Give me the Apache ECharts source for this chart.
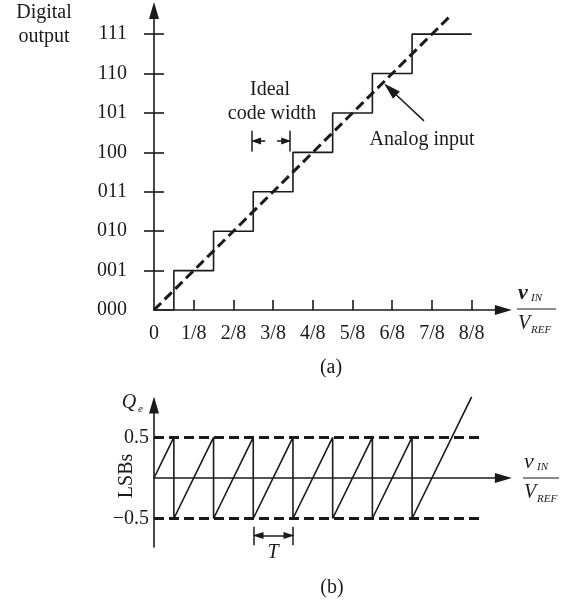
<!DOCTYPE html>
<html>
<head>
<meta charset="utf-8"/>
<title>ADC transfer</title>
<style>
*{margin:0;padding:0;}
html,body{width:567px;height:605px;background:#fff;}
#main{width:567px;height:605px;}
</style>
<script src="https://cdn.jsdelivr.net/npm/echarts@6/dist/echarts.min.js"></script>
</head>
<body>
<div id="main"></div>
<script>
// tick labels
var xLabels=['0','1/8','2/8','3/8','4/8','5/8','6/8','7/8','8/8'];
var codeLabels=['000','001','010','011','100','101','110','111'];
// (a) staircase: input where each code starts, and the code
var stepX=[0,0.5,1.5,2.5,3.5,4.5,5.5,6.5,8];
var stepY=[0,1,2,3,4,5,6,7,7];
// (a) ideal analog line
var analogX=[0,7.5];
var analogY=[0,7.5];
// (b) quantization error
var sawX=[0,0.5,0.5,1.5,1.5,2.5,2.5,3.5,3.5,4.5,4.5,5.5,5.5,6.5,6.5,8];
var sawY=[0,0.5,-0.5,0.5,-0.5,0.5,-0.5,0.5,-0.5,0.5,-0.5,0.5,-0.5,0.5,-0.5,1];
// (b) +-0.5 LSB bounds
var bandX=[0,8.2];
var bandY=[0.5,-0.5];

var SERIF='Liberation Serif';
var INK='#1a1a1a';

function pairs(xs,ys){
	var out=[];
	for(var i=0;i<xs.length;i++){out.push([xs[i],ys[i]]);}
	return out;
}
function seg(a,b,s1,s2,size){
	size=size||[7,11];
	return [{coord:a,symbol:s1||'none',symbolSize:size},{coord:b,symbol:s2||'none',symbolSize:size}];
}

var chart=echarts.init(document.getElementById('main'));
var lineAxis={show:true,onZero:true,symbol:['none','triangle'],symbolSize:[10,17],lineStyle:{color:INK,width:1.6}};

var option={
	animation:false,
	backgroundColor:'#fff',
	grid:[
		{left:154,top:10.5,width:349.4,height:299.5},
		{left:154,top:405,width:349.4,height:141.9}
	],
	xAxis:[
		{gridIndex:0,type:'value',min:0,max:8.8,interval:1,
			axisLine:lineAxis,
			axisTick:{show:true,inside:true,length:10,customValues:[1,2,3,4,5,6,7,8],lineStyle:{color:INK,width:1.6}},
			axisLabel:{show:true,margin:14,customValues:[0,1,2,3,4,5,6,7,8],fontFamily:SERIF,fontSize:20,color:INK,
				formatter:function(v){return xLabels[Math.round(v)];}},
			splitLine:{show:false}},
		{gridIndex:1,type:'value',min:0,max:8.8,interval:1,
			axisLine:lineAxis,axisTick:{show:false},axisLabel:{show:false},splitLine:{show:false}}
	],
	yAxis:[
		{gridIndex:0,type:'value',position:'left',min:0,max:7.6,interval:1,
			axisLine:lineAxis,
			axisTick:{show:true,length:10,customValues:[1,2,3,4,5,6,7],lineStyle:{color:INK,width:1.6}},
			axisLabel:{show:true,margin:27,customValues:[0,1,2,3,4,5,6,7],fontFamily:SERIF,fontSize:20,color:INK,
				formatter:function(v){return codeLabels[Math.round(v)];}},
			splitLine:{show:false}},
		{gridIndex:0,type:'value',position:'left',offset:0,min:0,max:7.6,interval:1,
			axisLine:{show:false},
			axisTick:{show:true,inside:true,length:10,customValues:[1,2,3,4,5,6,7],lineStyle:{color:INK,width:1.6}},
			axisLabel:{show:false},splitLine:{show:false}},
		{gridIndex:1,type:'value',position:'left',min:-0.85,max:0.9,interval:0.5,
			axisLine:lineAxis,axisTick:{show:false},
			axisLabel:{show:true,margin:5,customValues:[0.5,-0.5],fontFamily:SERIF,fontSize:20,color:INK,
				formatter:function(v){return v<0?'\u22120.5':'0.5';}},
			name:'LSBs',nameLocation:'middle',nameRotate:90,nameGap:17,nameMoveOverlap:false,
			nameTextStyle:{fontFamily:SERIF,fontSize:20,color:INK},
			splitLine:{show:false}}
	],
	series:[
		{name:'code',type:'line',xAxisIndex:0,yAxisIndex:0,step:'end',symbol:'none',
			data:pairs(stepX,stepY),lineStyle:{color:INK,width:1.6},z:3},
		{name:'analog',type:'line',xAxisIndex:0,yAxisIndex:0,symbol:'none',clip:false,
			data:pairs(analogX,analogY),lineStyle:{color:INK,width:3,type:[10,5]},z:4,
			markLine:{silent:true,animation:false,label:{show:false},
				lineStyle:{color:INK,width:1.5,type:'solid'},
				data:[
					seg([6.8,4.8],[5.95,5.6],'none','triangle',[10,17]),
					seg([2.47,4.55],[2.47,4.02]),
					seg([2.8,4.29],[2.57,4.29],'none','triangle',[7,10]),
					seg([3.1,4.29],[3.33,4.29],'none','triangle',[7,10]),
					seg([3.43,4.55],[3.43,4.02])
				]}},
		{name:'upper',type:'line',xAxisIndex:1,yAxisIndex:2,symbol:'none',
			data:pairs(bandX,[bandY[0],bandY[0]]),lineStyle:{color:INK,width:3,type:[10,5]}},
		{name:'lower',type:'line',xAxisIndex:1,yAxisIndex:2,symbol:'none',
			data:pairs(bandX,[bandY[1],bandY[1]]),lineStyle:{color:INK,width:3,type:[10,5]}},
		{name:'error',type:'line',xAxisIndex:1,yAxisIndex:2,symbol:'none',clip:false,
			data:pairs(sawX,sawY),lineStyle:{color:INK,width:1.6},z:3,
			markLine:{silent:true,animation:false,label:{show:false},
				lineStyle:{color:INK,width:1.5,type:'solid'},
				data:[
					seg([2.52,-0.6],[2.52,-0.83]),
					seg([3.5,-0.6],[3.5,-0.83]),
					seg([2.62,-0.71],[3.4,-0.71],'triangle','triangle',[7,11])
				]}}
	],
	graphic:[]
};

function txt(s,x,y,font,align){
	return {type:'text',x:x,y:y,silent:true,style:{text:s,font:font||('20px '+SERIF),fill:INK,align:align||'center',verticalAlign:'middle'}};
}
function rule(x1,x2,y){
	return {type:'line',silent:true,shape:{x1:x1,y1:y,x2:x2,y2:y},style:{stroke:INK,lineWidth:1.2}};
}
var it='italic 20px '+SERIF, sub='italic 11px '+SERIF;
option.graphic=[
	txt('Digital',44,13),
	txt('output',44,37),
	txt('Ideal',270,90),
	txt('code width',272,114),
	txt('Analog input',422,140),
	txt('(a)',331,368),
	txt('(b)',332,588),
	// v_IN / V_REF, panel (a)
	txt('v',518,293,'bold italic 22px '+SERIF,'left'),
	txt('IN',531,298,sub,'left'),
	rule(517,556,309),
	txt('V',518,324,it,'left'),
	txt('REF',531,330,sub,'left'),
	// v_IN / V_REF, panel (b)
	txt('v',524,462,'italic 22px '+SERIF,'left'),
	txt('IN',537,467,sub,'left'),
	rule(523,559,478),
	txt('V',524,493,it,'left'),
	txt('REF',537,499,sub,'left'),
	// Q_e and T
	txt('Q',129,403,it),
	txt('e',138,409,sub,'left'),
	txt('T',273,553,it)
];
chart.setOption(option);
</script>
</body>
</html>
